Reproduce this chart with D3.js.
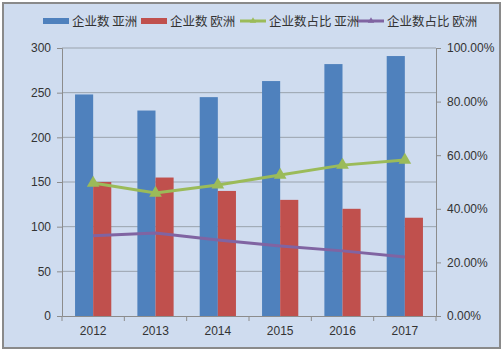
<!DOCTYPE html>
<html lang="zh">
<head>
  <meta charset="UTF-8">
  <title>企业数</title>
  <style>
    body { margin: 0; background: #fff; }
    svg { display: block; font-family: "Noto Sans CJK SC", "DejaVu Sans", sans-serif; }
    .tick text { fill: #333; font-size: 12px; }
  </style>
</head>
<body>
  <script src="https://d3js.org/d3.v7.min.js"></script>
  <svg id="chart" width="504" height="353"></svg>
  <script>
    const years = ['2012', '2013', '2014', '2015', '2016', '2017']
    const asiaCount = [248, 230, 245, 263, 282, 291]
    const europeCount = [150, 155, 140, 130, 120, 110]
    const asiaShare = [0.496, 0.459, 0.489, 0.526, 0.563, 0.582]
    const europeShare = [0.299, 0.31, 0.284, 0.261, 0.243, 0.22]
    const leftTicks = [0, 50, 100, 150, 200, 250, 300]
    const rightTicks = [0, 0.2, 0.4, 0.6, 0.8, 1]

    const svg = d3.select('#chart')
    // 外框和背景
    svg.append('rect')
      .attr('x', 3).attr('y', 3).attr('width', 497).attr('height', 345)
      .attr('fill', '#cfdcef').attr('stroke', '#8a8a8a').attr('stroke-width', 2)

    const pLeft = 62, pRight = 436, pTop = 48, pBottom = 316
    const x = d3.scaleBand().domain(years).range([pLeft, pRight])
    const yL = d3.scaleLinear().domain([0, 300]).range([pBottom, pTop])
    const yR = d3.scaleLinear().domain([0, 1]).range([pBottom, pTop])

    // 网格线
    svg.append('g').selectAll('line')
      .data(leftTicks.slice(1))
      .enter().append('line')
      .attr('x1', pLeft).attr('x2', pRight)
      .attr('y1', d => yL(d)).attr('y2', d => yL(d))
      .attr('stroke', '#9aa3ad').attr('stroke-width', 1)

    const axL = svg.append('g')
      .attr('transform', `translate(${pLeft},0)`)
      .call(d3.axisLeft(yL).tickValues(leftTicks).tickSize(5).tickPadding(6))
    const axR = svg.append('g')
      .attr('transform', `translate(${pRight},0)`)
      .call(d3.axisRight(yR).tickValues(rightTicks).tickSize(5).tickPadding(6).tickFormat(d3.format('.2%')))
    const axB = svg.append('g')
      .attr('transform', `translate(0,${pBottom})`)
      .call(d3.axisBottom(x).tickSize(0).tickPadding(10))
    axB.selectAll('.tick').append('line')
      .attr('x1', x.bandwidth() / 2).attr('x2', x.bandwidth() / 2)
      .attr('y1', 0).attr('y2', 5)
    // 末尾刻度
    axB.append('line').attr('x1', pLeft).attr('x2', pLeft).attr('y1', 0).attr('y2', 5)
    ;[axL, axR, axB].forEach(a => {
      a.selectAll('path, line').attr('stroke', '#8c8c8c')
    })

    // 柱子
    const sub = d3.scaleBand().domain([0, 1]).range([0, x.bandwidth()]).paddingOuter(0.72)
    svg.append('g').selectAll('rect')
      .data(asiaCount)
      .enter().append('rect')
      .attr('x', (d, i) => x(years[i]) + sub(0))
      .attr('width', sub.bandwidth())
      .attr('y', d => yL(d))
      .attr('height', d => pBottom - yL(d))
      .attr('fill', '#4f81bd')
    svg.append('g').selectAll('rect')
      .data(europeCount)
      .enter().append('rect')
      .attr('x', (d, i) => x(years[i]) + sub(1))
      .attr('width', sub.bandwidth())
      .attr('y', d => yL(d))
      .attr('height', d => pBottom - yL(d))
      .attr('fill', '#c0504d')

    const cx = i => x(years[i]) + x.bandwidth() / 2
    const line = d3.line().x((d, i) => cx(i)).y(d => yR(d))
    svg.append('path').datum(asiaShare)
      .attr('d', line).attr('fill', 'none')
      .attr('stroke', '#9bbb59').attr('stroke-width', 3)
    svg.append('g').selectAll('path')
      .data(asiaShare)
      .enter().append('path')
      .attr('d', d3.symbol(d3.symbolTriangle, 70))
      .attr('transform', (d, i) => `translate(${cx(i)},${yR(d)})`)
      .attr('fill', '#9bbb59')
    svg.append('path').datum(europeShare)
      .attr('d', line).attr('fill', 'none')
      .attr('stroke', '#8064a2').attr('stroke-width', 3)

    // 图例
    const legend = [
      { name: '企业数 亚洲', color: '#4f81bd', x: 43, kind: 'bar' },
      { name: '企业数 欧洲', color: '#c0504d', x: 141, kind: 'bar' },
      { name: '企业数占比 亚洲', color: '#9bbb59', x: 240, kind: 'line' },
      { name: '企业数占比 欧洲', color: '#8064a2', x: 358, kind: 'line' }
    ]
    const lg = svg.append('g').selectAll('g')
      .data(legend)
      .enter().append('g')
      .attr('transform', d => `translate(${d.x},21)`)
    lg.append('rect')
      .attr('x', 0).attr('y', d => d.kind === 'bar' ? -3 : -1.5)
      .attr('width', 26).attr('height', d => d.kind === 'bar' ? 6 : 3)
      .attr('fill', d => d.color)
    lg.filter(d => d.kind === 'line').append('path')
      .attr('d', d3.symbol(d3.symbolTriangle, 18))
      .attr('transform', 'translate(13,0)')
      .attr('fill', d => d.color)
    lg.append('text')
      .attr('x', 29).attr('y', 4.5)
      .attr('font-size', 12.5).attr('fill', '#333')
      .text(d => d.name)
  </script>
</body>
</html>
